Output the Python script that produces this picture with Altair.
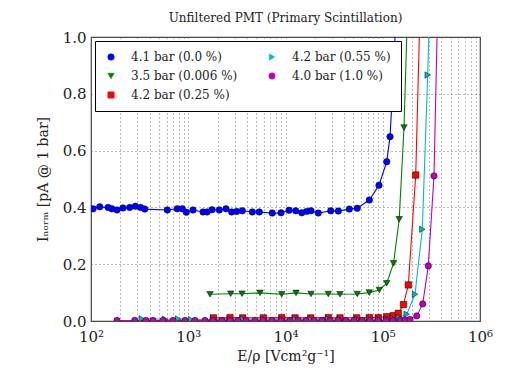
import altair as alt
import pandas as pd

FONT = "DejaVu Serif"

names = ["4.1 bar (0.0 %)", "3.5 bar (0.006 %)", "4.2 bar (0.25 %)",
         "4.2 bar (0.55 %)", "4.0 bar (1.0 %)"]

blue_E = [105, 123, 150, 164, 185, 213, 250, 286, 324, 357,
          609, 771, 868, 955, 1119, 1419, 1560, 1755, 2086, 2445,
          2797, 3150, 3597, 4560, 5380, 7317, 8990, 10870, 12740, 14690,
          16520, 18290, 21740, 29170, 34910, 45290, 54700, 72740, 91500, 109900,
          118800, 128300, 140000]
blue_I = [0.395, 0.402, 0.400, 0.395, 0.391, 0.398, 0.400, 0.404, 0.400, 0.394,
          0.391, 0.395, 0.395, 0.383, 0.391, 0.384, 0.384, 0.392, 0.391, 0.395,
          0.384, 0.386, 0.388, 0.384, 0.384, 0.380, 0.381, 0.390, 0.388, 0.381,
          0.386, 0.388, 0.380, 0.388, 0.387, 0.394, 0.397, 0.426, 0.478, 0.561,
          0.649, 0.855, 1.17]

green_E = [1674, 2733, 3571, 5470, 9140, 12830, 18290, 27540, 36310, 54700,
           72740, 92200, 109900, 129100, 147600, 165400, 182000]
green_I = [0.094, 0.096, 0.096, 0.099, 0.094, 0.099, 0.095, 0.095, 0.094, 0.095,
           0.100, 0.109, 0.133, 0.203, 0.358, 0.681, 1.15]

red_E = [1811, 2687, 3631, 5916, 9140, 12530, 18160, 27540, 36310, 53950,
         72740, 89950, 109900, 128300, 144500, 163400, 183200, 218300, 247000]
red_I = [0.011, 0.012, 0.011, 0.011, 0.012, 0.011, 0.011, 0.012, 0.011, 0.011,
         0.012, 0.012, 0.015, 0.019, 0.027, 0.058, 0.127, 0.514, 1.22]

cyan_E = [332, 577, 785, 1067, 1797, 2687, 3631, 5916, 9140, 12530,
          18160, 27540, 36310, 53950, 72740, 89950, 109900, 128300, 146900, 176300,
          214600, 255100, 290000, 313500]
cyan_I = [0.008, 0.006, 0.007, 0.005, 0.006, 0.005, 0.006, 0.006, 0.005, 0.006,
          0.005, 0.006, 0.006, 0.005, 0.006, 0.006, 0.007, 0.008, 0.012, 0.024,
          0.094, 0.323, 0.866, 1.31]

mag_E = [185, 281, 368, 434, 550, 697, 926, 1172, 1486, 1797,
         2223, 2687, 3249, 3926, 4857, 5871, 7266, 8990, 11120, 13450,
         16250, 19640, 23730, 28710, 34670, 41880, 50590, 61240, 73960, 89330,
         107900, 127400, 150300, 169300, 190500, 223400, 257500, 293800, 336500, 378800]
mag_I = [0.002, 0.002, 0.002, 0.002, 0.002, 0.002, 0.002, 0.002, 0.002, 0.002,
         0.002, 0.002, 0.002, 0.002, 0.002, 0.002, 0.002, 0.002, 0.002, 0.002,
         0.002, 0.002, 0.002, 0.002, 0.002, 0.002, 0.002, 0.002, 0.002, 0.002,
         0.002, 0.002, 0.003, 0.004, 0.006, 0.018, 0.060, 0.194, 0.511, 1.32]

x_tick_values = [100, 200, 300, 400, 500, 600, 700, 800, 900,
                 1000, 2000, 3000, 4000, 5000, 6000, 7000, 8000, 9000,
                 10000, 20000, 30000, 40000, 50000, 60000, 70000, 80000, 90000,
                 100000, 200000, 300000, 400000, 500000, 600000, 700000, 800000, 900000,
                 1000000]
y_tick_values = [0.0, 0.2, 0.4, 0.6, 0.8, 1.0]

rows = []
for name, E, I in zip(names, [blue_E, green_E, red_E, cyan_E, mag_E],
                      [blue_I, green_I, red_I, cyan_I, mag_I]):
    for e, i in zip(E, I):
        rows.append({"series": name, "E": e, "I": i})
df = pd.DataFrame(rows)

leg_colors = ["#0000ff", "#008000", "#ff0000", "#00bfbf", "#bf00bf"]
leg_shapes = ["circle", "triangle-down", "square", "triangle-right", "circle"]
leg_sizes = [42, 40, 40, 40, 22]

label_expr = ("datum.value == 100 ? '10²' : datum.value == 1000 ? '10³' : "
              "datum.value == 10000 ? '10⁴' : datum.value == 100000 ? '10⁵' : "
              "datum.value == 1000000 ? '10⁶' : ''")

x_enc = alt.X("E:Q",
              scale=alt.Scale(type="log", domain=[100, 1000000]),
              axis=alt.Axis(values=x_tick_values, labelExpr=label_expr,
                            labelOverlap=False, labelFlush=False,
                            labelFont=FONT, titleFont=FONT,
                            labelFontSize=15, titleFontSize=14,
                            labelPadding=8,
                            title="E/ρ  [Vcm²g⁻¹]", titlePadding=5))
y_enc = alt.Y("I:Q", scale=alt.Scale(domain=[0, 1]),
              axis=alt.Axis(values=y_tick_values, format=".1f",
                            labelFont=FONT, titleFont=FONT,
                            labelFontSize=15, titleFontSize=14,
                            labelPadding=5,
                            title="Iₙₒᵣₘ [pA @ 1 bar]", titlePadding=12))
color_enc = alt.Color("series:N", scale=alt.Scale(domain=names, range=leg_colors),
                      legend=alt.Legend(title=None, orient="top-left", columns=2,
                                        fillColor="white", strokeColor="black",
                                        padding=10, offset=4, columnPadding=28,
                                        rowPadding=7, labelFont=FONT, labelFontSize=12,
                                        labelOffset=14, symbolStrokeColor="black",
                                        symbolStrokeWidth=0.5, labelColor="#222"))
shape_enc = alt.Shape("series:N", scale=alt.Scale(domain=names, range=leg_shapes),
                      legend=alt.Legend(title=None))
size_enc = alt.Size("series:N", scale=alt.Scale(domain=names, range=leg_sizes),
                    legend=alt.Legend(title=None))

lines = alt.Chart(df).mark_line(strokeWidth=1.1, clip=True).encode(
    x=x_enc, y=y_enc, color=color_enc, detail="series:N")
points = alt.Chart(df).mark_point(filled=True, opacity=1, stroke="black",
                                  strokeWidth=0.5, clip=True).encode(
    x=x_enc, y=y_enc, color=color_enc, shape=shape_enc, size=size_enc)

chart = alt.layer(lines, points).properties(
    width=389, height=284,
    title=alt.TitleParams("Unfiltered PMT (Primary Scintillation)", font=FONT,
                          fontSize=12, fontWeight="normal", color="#222", offset=5),
    autosize="none",
    padding={"left": 83, "top": 29, "right": 18, "bottom": 48},
).configure_axis(
    labelFont=FONT, titleFont=FONT,
    titleFontWeight="normal", labelColor="#222", titleColor="#222",
    grid=True, gridColor="#555", gridDash=[1, 3], gridWidth=0.8,
    domain=False, ticks=False,
).configure_legend(labelFont=FONT).configure_view(stroke="#444", strokeWidth=1.2)

chart.save("out.html", embed_options={"renderer": "svg", "actions": False})
